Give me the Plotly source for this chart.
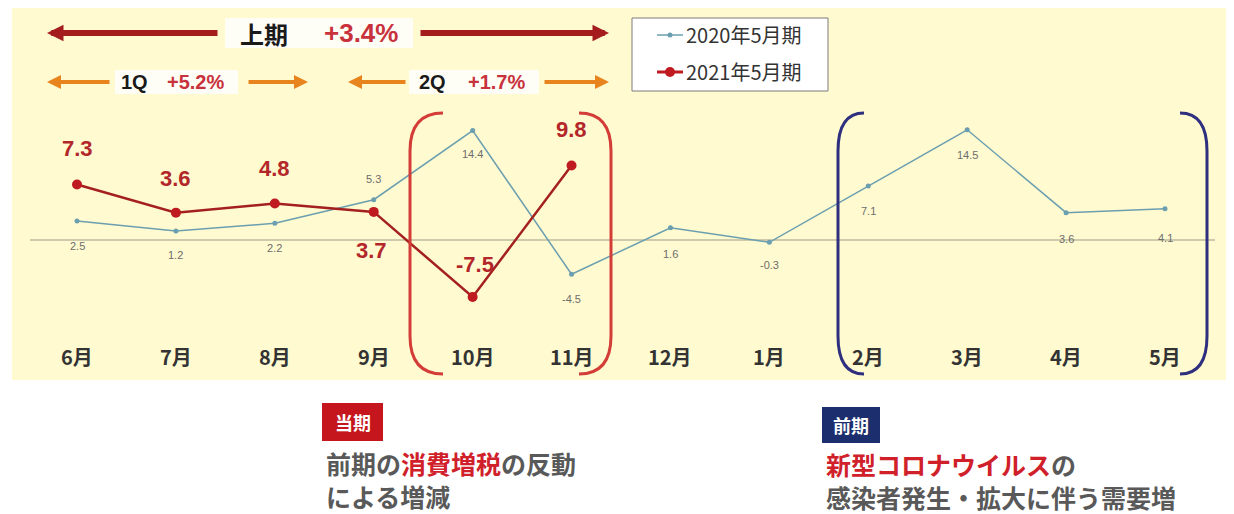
import plotly.graph_objects as go

# ---------------- data ----------------
months = ["6月", "7月", "8月", "9月", "10月", "11月", "12月", "1月", "2月", "3月", "4月", "5月"]
prev_values = [2.5, 1.2, 2.2, 5.3, 14.4, -4.5, 1.6, -0.3, 7.1, 14.5, 3.6, 4.1]      # 2020年5月期
curr_values = [7.3, 3.6, 4.8, 3.7, -7.5, 9.8]                                     # 2021年5月期
prev_label_shift = [-25, -24, -25, 21, -23, -25, -26, -23, -25, -25, -26, -29]
curr_label_shift = [36, 34, 35, -39, 33, 36]
curr_label_xshift = [0, 0, 0, -2, 2, 0]
series_names = ["2020年5月期", "2021年5月期"]
half_label = ("上期", "+3.4%")
q_labels = [("1Q", "+5.2%"), ("2Q", "+1.7%")]

W, H = 1234, 514
def px(x): return x / W
def py(y): return 1 - y / H

TEAL = "#6b9fb0"
RED_LINE = "#a3201f"
RED_MK = "#bf1a20"
RED_TXT = "#b3262a"
CJK = "Noto Sans CJK JP"

# axis mapping: index 0 -> 77px, index 11 -> 1165px ; zero -> 240px, 7.6px/unit
sp = (1165 - 77) / 11
x_range = [-77 / sp, 11 + (W - 1165) / sp]
ys = 7.6
y_range = [-(H - 240) / ys, 240 / ys]

fig = go.Figure()
fig.add_trace(go.Scatter(x=months, y=prev_values, mode="lines+markers",
                         line=dict(color=TEAL, width=1.5),
                         marker=dict(color=TEAL, size=5), name=series_names[0]))
fig.add_trace(go.Scatter(x=months[:len(curr_values)], y=curr_values, mode="lines+markers",
                         line=dict(color=RED_LINE, width=2.5),
                         marker=dict(color=RED_MK, size=10), name=series_names[1]))

shapes = []
ann = []

def text_ann(x, y, text, font, xref="paper", yref="paper", xanchor="center", **kw):
    d = dict(x=x, y=y, xref=xref, yref=yref, text=text, showarrow=False, font=font,
             xanchor=xanchor, yanchor="middle")
    d.update(kw)
    return d

# yellow background
shapes.append(dict(type="rect", xref="paper", yref="paper", x0=px(12), x1=px(1226),
                   y0=py(380), y1=py(8), fillcolor="#fffad0", line=dict(width=0), layer="below"))
# zero line
shapes.append(dict(type="line", xref="paper", yref="y", x0=px(30), x1=px(1215), y0=0, y1=0,
                   line=dict(color="#9c9c86", width=1.2), layer="below"))

# data labels
for m, v, s in zip(months, prev_values, prev_label_shift):
    ann.append(text_ann(m, v, f"{v:.1f}", dict(family="Liberation Sans", size=11, color="#6d6d6d"),
                        xref="x", yref="y", yshift=s))
for m, v, s, xs in zip(months, curr_values, curr_label_shift, curr_label_xshift):
    ann.append(text_ann(m, v, f"<b>{v:.1f}</b>", dict(family="Liberation Sans", size=22, color=RED_TXT),
                        xref="x", yref="y", yshift=s, xshift=xs))

# month labels
for m in months:
    ann.append(text_ann(m, py(356), f"<b>{m}</b>", dict(family=CJK, size=20, color="#333333"), xref="x"))

# brackets
def bracket(xv, xe, y0, y1, color):
    r = 38
    return dict(type="path", xref="paper", yref="paper",
                path=(f"M {px(xe)},{py(y0)} Q {px(xv)},{py(y0)} {px(xv)},{py(y0 + r)} "
                      f"L {px(xv)},{py(y1 - r)} Q {px(xv)},{py(y1)} {px(xe)},{py(y1)}"),
                line=dict(color=color, width=3))
shapes.append(bracket(410, 443, 113, 374, "#d33c37"))
shapes.append(bracket(611, 579, 113, 374, "#d33c37"))
shapes.append(bracket(838, 864, 113, 374, "#2e2f7e"))
shapes.append(bracket(1207, 1180, 113, 374, "#2e2f7e"))

# arrows
def arrow(head_x, tail_x, y, color, width, size):
    return dict(x=px(head_x), y=py(y), xref="paper", yref="paper", ax=tail_x - head_x, ay=0,
                axref="pixel", ayref="pixel", text="", showarrow=True, arrowhead=2,
                arrowsize=size, arrowwidth=width, arrowcolor=color, standoff=0, startstandoff=0)
DR = "#a51c1c"
OR = "#e8841e"
ann.append(arrow(47, 219, 33, DR, 6, 0.55))
ann.append(arrow(609, 419, 33, DR, 6, 0.55))
ann.append(arrow(47, 111, 82, OR, 4, 0.7))
ann.append(arrow(308, 247, 82, OR, 4, 0.7))
ann.append(arrow(348, 407, 82, OR, 4, 0.7))
ann.append(arrow(609, 543, 82, OR, 4, 0.7))

# white boxes behind period labels
for x0, x1, y0, y1 in [(225, 413, 18, 48), (115, 238, 70, 94), (409, 539, 70, 94)]:
    shapes.append(dict(type="rect", xref="paper", yref="paper", x0=px(x0), x1=px(x1),
                       y0=py(y1), y1=py(y0), fillcolor="#fffef6", line=dict(width=0), layer="below"))

ann.append(text_ann(px(264), py(33), f"<b>{half_label[0]}</b>", dict(family=CJK, size=24, color="#1a1a1a")))
ann.append(text_ann(px(361), py(33), f"<b>{half_label[1]}</b>",
                    dict(family="Liberation Sans", size=26, color="#c8323c")))
for (q, pct), (cx1, cx2) in zip(q_labels, [(134, 195), (432, 496)]):
    ann.append(text_ann(px(cx1), py(82), f"<b>{q}</b>", dict(family="Liberation Sans", size=20, color="#1a1a1a")))
    ann.append(text_ann(px(cx2), py(82), f"<b>{pct}</b>", dict(family="Liberation Sans", size=20, color="#c8323c")))

# manual legend
shapes.append(dict(type="rect", xref="paper", yref="paper", x0=px(632), x1=px(828), y0=py(91), y1=py(18),
                   fillcolor="white", line=dict(color="#7a7a7a", width=1)))
for i, (name, col, lw, r) in enumerate([(series_names[0], TEAL, 1.5, 2.5), (series_names[1], RED_MK, 3, 5)]):
    yy = [35, 72][i]
    shapes.append(dict(type="line", xref="paper", yref="paper", x0=px(657), x1=px(683), y0=py(yy), y1=py(yy),
                       line=dict(color=col, width=lw)))
    shapes.append(dict(type="circle", xref="paper", yref="paper", x0=px(670 - r), x1=px(670 + r),
                       y0=py(yy + r), y1=py(yy - r), fillcolor=col, line=dict(width=0)))
    ann.append(text_ann(px(684), py(yy), name, dict(family=CJK, size=20, color="#333333"), xanchor="left"))

# bottom notes
shapes.append(dict(type="rect", xref="paper", yref="paper", x0=px(322), x1=px(383), y0=py(441), y1=py(403),
                   fillcolor="#c4161c", line=dict(width=0)))
ann.append(text_ann(px(352.5), py(422), "<b>当期</b>", dict(family=CJK, size=18, color="white")))
shapes.append(dict(type="rect", xref="paper", yref="paper", x0=px(822), x1=px(880), y0=py(443), y1=py(407),
                   fillcolor="#1c2e6e", line=dict(width=0)))
ann.append(text_ann(px(851), py(425), "<b>前期</b>", dict(family=CJK, size=18, color="white")))
GRAY = "#595959"
NRED = "#d0202a"
notes = [
    (324, 479, f"<b>前期の<span style='color:{NRED}'>消費増税</span>の反動<br>による増減</b>"),
    (824, 480, f"<b><span style='color:{NRED}'>新型コロナウイルス</span>の<br>感染者発生・拡大に伴う需要増</b>"),
]
for x, y, t in notes:
    ann.append(text_ann(px(x), py(y), t, dict(family=CJK, size=25, color=GRAY), xanchor="left", align="left"))

fig.update_layout(
    width=W, height=H, margin=dict(l=0, r=0, t=0, b=0),
    paper_bgcolor="white", plot_bgcolor="rgba(0,0,0,0)", showlegend=False,
    xaxis=dict(range=x_range, visible=False, fixedrange=True, domain=[0, 1]),
    yaxis=dict(range=y_range, visible=False, fixedrange=True, domain=[0, 1]),
    shapes=shapes, annotations=ann,
)
fig.write_html("out.html")
